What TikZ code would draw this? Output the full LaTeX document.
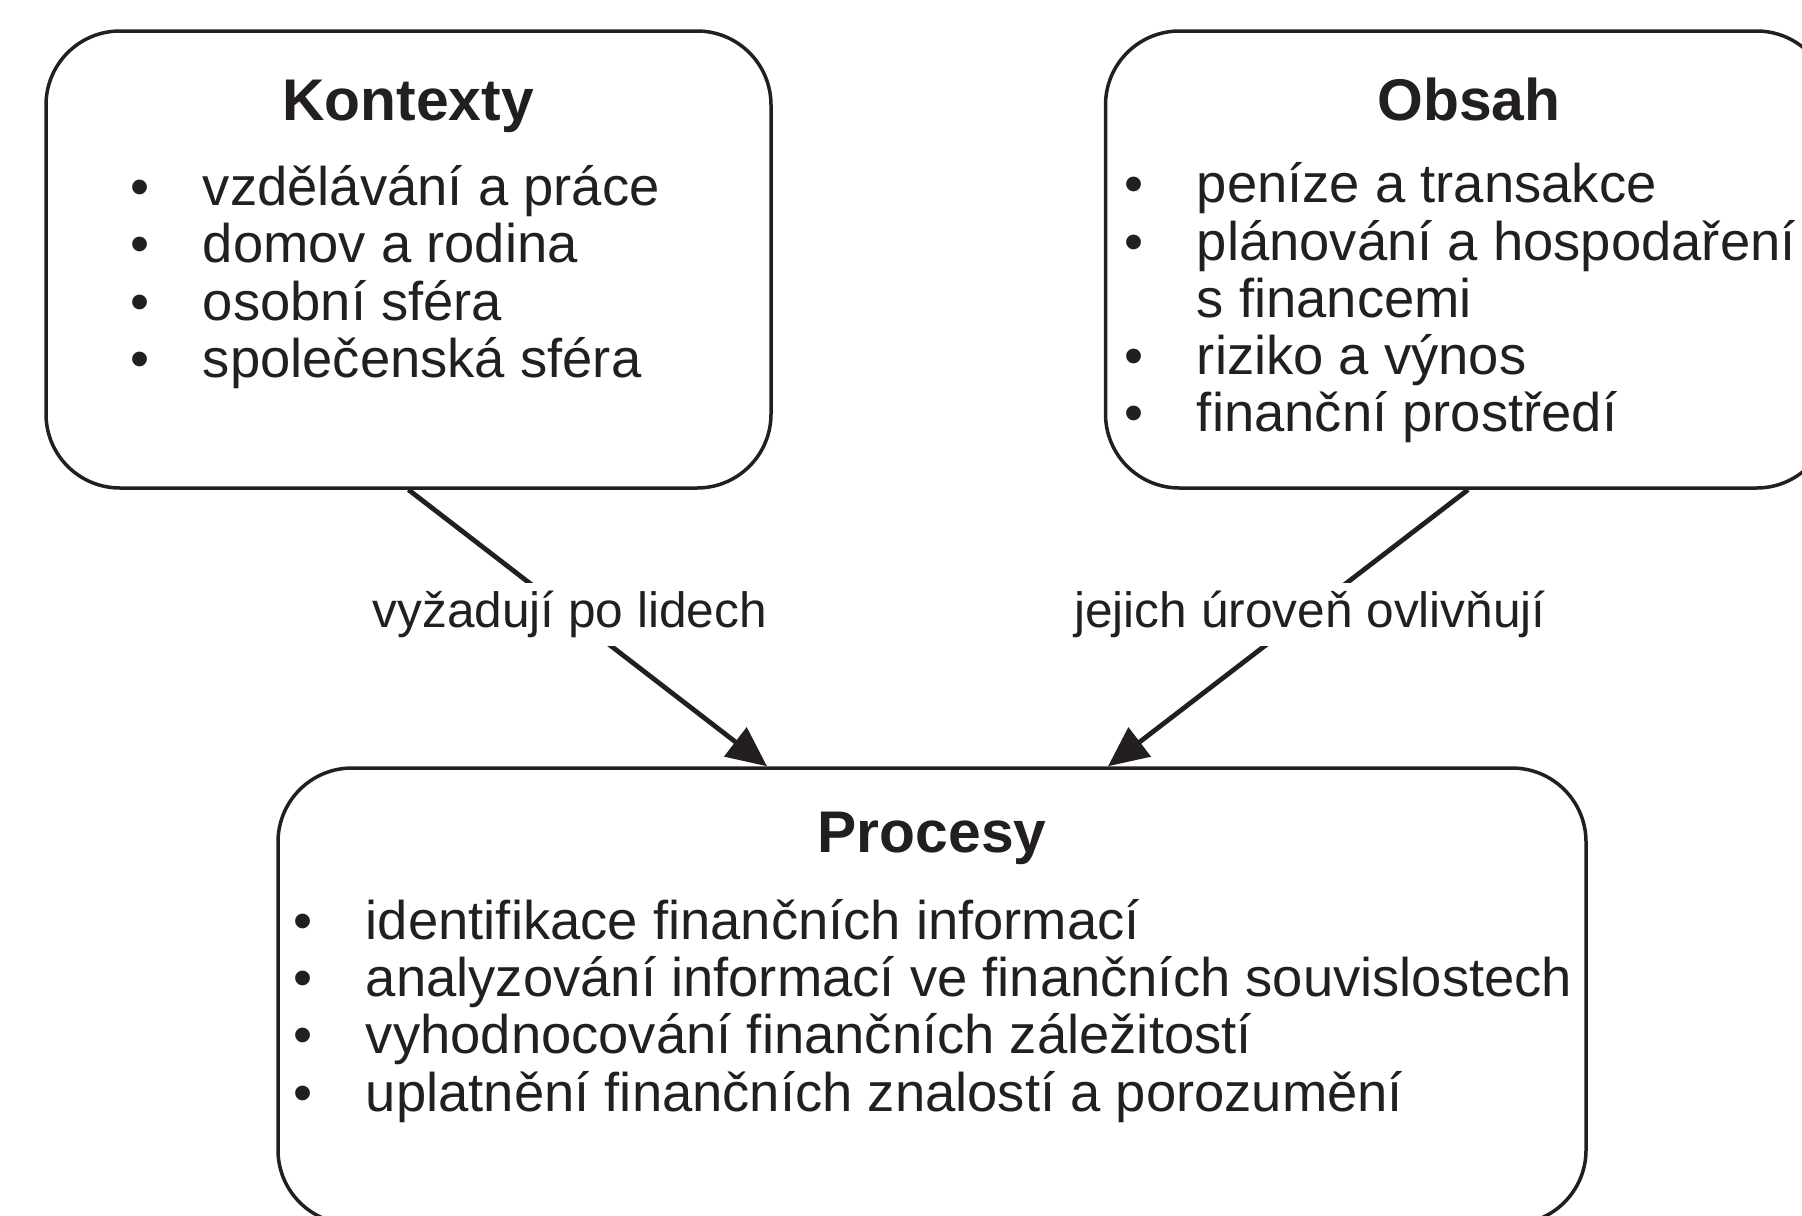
\documentclass[tikz,border=0pt]{standalone}
\usepackage{fontspec}
\setmainfont{Liberation Sans}
\usetikzlibrary{positioning, arrows.meta}
\definecolor{ink}{HTML}{231F20}
\newcommand{\bul}[1]{\makebox[36pt][l]{\textbullet}#1}
\tikzset{
    x=0.5pt, y=-0.5pt, % one unit is one pixel of the reference
    box/.style={draw=ink, line width=1.75pt, rounded corners=37pt, minimum width=362.5pt, minimum height=228.5pt}, % the rounded frames
    head/.style={font=\fontsize{29.4}{33}\selectfont\bfseries, text=ink, anchor=base, inner sep=0pt}, % box titles
    entry/.style={font=\fontsize{27.2}{31}\selectfont, text=ink, anchor=base west, inner sep=0pt}, % list lines
    link/.style={draw=ink, line width=2.4pt, -{Triangle[length=20pt,width=18pt]}}, % the two arrows
    saying/.style={font=\fontsize{24.8}{28}\selectfont, text=ink, fill=white, inner sep=4pt, pos=0.45}, % arrow texts
}

\begin{document}
\begin{tikzpicture}
    \useasboundingbox (0,0) rectangle (1802,1215);
    \node[box] (kont) at (408.5,259.5) {};
    \node[box] (obs) at (1468,259.5) {};
    \node[box, minimum width=654pt, minimum height=228pt] (proc) at (932,996) {};

    \node[head] (kontT) at (408,120) {Kontexty};
    \node[head] (obsT) at (1469,120) {Obsah};
    \node[head] (procT) at (932,852) {Procesy};

    \foreach \t [count=\i from 0] in {vzdělávání a práce, domov a rodina, osobní sféra, společenská sféra}
        \node[entry] (kont\i) at (130.5,205+57.5*\i) {\bul{\t}};

    \foreach \y/\t [count=\i] in {202/peníze a transakce, 260/plánování a hospodaření, 374/riziko a výnos, 431/finanční prostředí}
        \node[entry] (obs\i) at (1124.5,\y) {\bul{\t}};
    \node[entry] (obs2b) at (1196.5,317) {s financemi};

    \foreach \t [count=\i from 0] in {identifikace finančních informací, analyzování informací ve finančních souvislostech, vyhodnocování finančních záležitostí, uplatnění finančních znalostí a porozumění}
        \node[entry] (proc\i) at (293.5,939+57.33*\i) {\bul{\t}};

    \draw[link] (kont.south) -- node[saying] (reqT) {vyžadují po lidech} ([xshift=-82.5pt]proc.north);
    \draw[link] (obs.south) -- node[saying, xshift=2pt] (infT) {jejich úroveň ovlivňují} ([xshift=88pt]proc.north);
\end{tikzpicture}
\end{document}
